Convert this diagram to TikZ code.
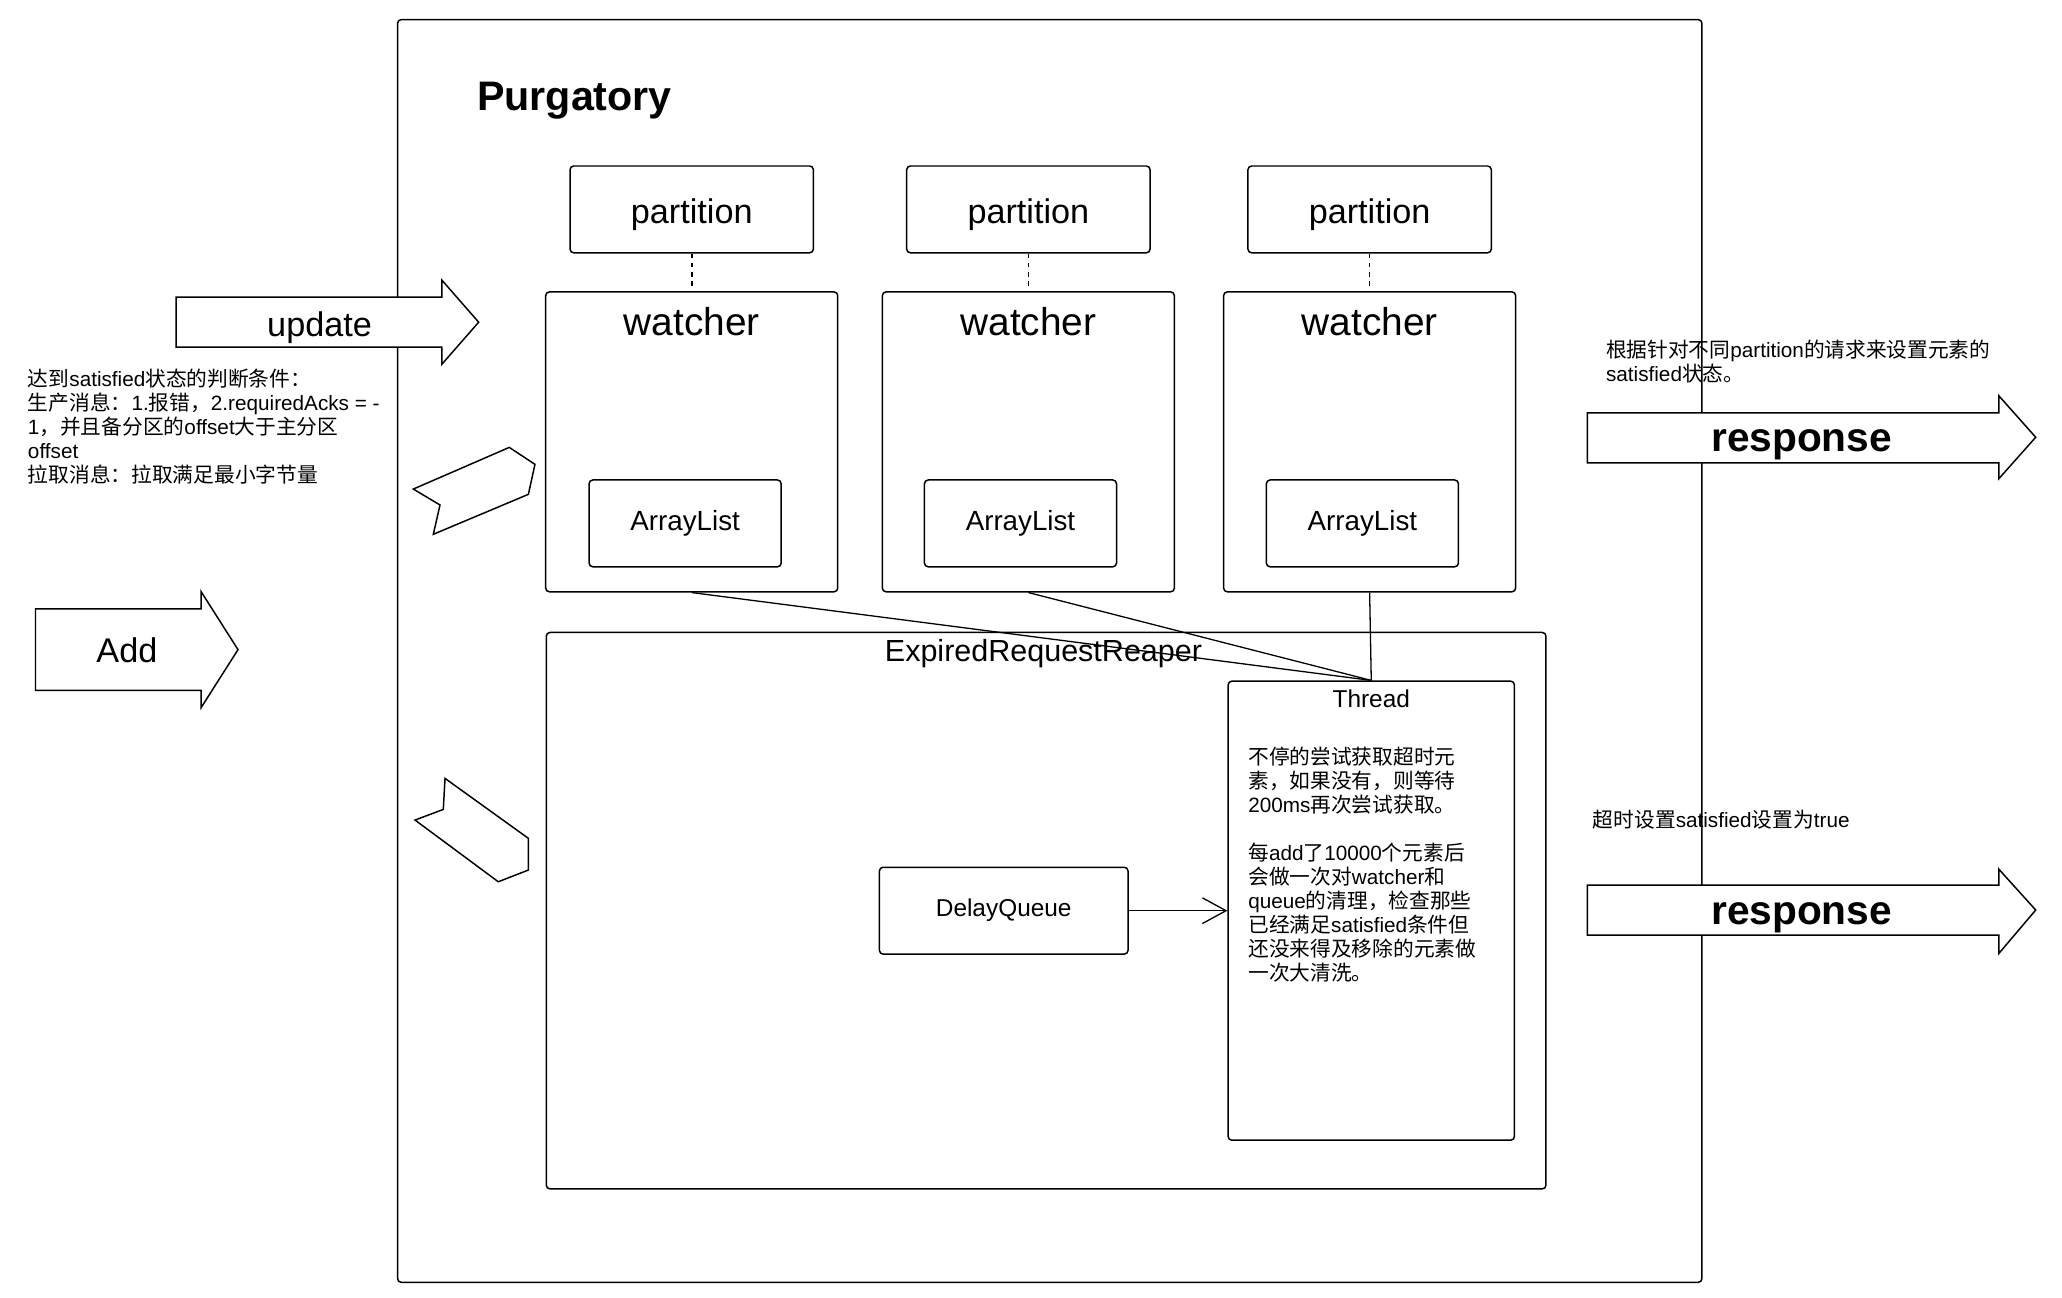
\documentclass[tikz,border=0pt]{standalone}
\usepackage{fontspec}
\setmainfont{Liberation Sans}
\newfontfamily\zh{Noto Sans CJK SC}
\usetikzlibrary{arrows.meta, positioning}

\begin{document}
\begin{tikzpicture}[
            x=0.025cm, y=-0.025cm,
            node distance=1cm and 1cm,
            % --- 样式定义 ---
            box/.style={rectangle, draw, line width=0.8pt, rounded corners=2pt, fill=white,
                        inner sep=0pt, align=center},
            part/.style={box, minimum width=4.625cm, minimum height=1.65cm, text height=19pt, text depth=3.9pt,
                         font=\fontsize{18.5}{22}\selectfont},
            watch/.style={box, minimum width=5.55cm, minimum height=5.7cm,
                          label={[anchor=base, yshift=-0.85cm, font=\fontsize{21}{25}\selectfont]north:watcher}},
            alist/.style={box, minimum width=3.65cm, minimum height=1.65cm, font=\fontsize{15}{18}\selectfont},
            note/.style={anchor=west, align=left, inner sep=0pt, font=\fontsize{11.2}{13}\selectfont},
            fat/.style={draw, line width=0.8pt, fill=white, line join=miter},
            fattext/.style={anchor=base, inner sep=0pt, font=\fontsize{18.5}{22}\selectfont},
            link/.style={draw, line width=0.7pt},
            dotlink/.style={draw, line width=0.9pt, dash pattern=on 2.5pt off 2.5pt}
        ]
        \useasboundingbox (0,0) rectangle (1568,987);

        % --- 外框 ---
        \node[box, minimum width=24.79cm, minimum height=24cm] (purg) at (798.25,495) {};
        \node[anchor=base west, inner sep=0pt, font=\fontsize{22.3}{26}\selectfont\bfseries] (title) at (362.5,84) {Purgatory};

        % --- watcher 与 partition ---
        \node[watch] (w1) at (526,336) {};
        \node[watch] (w2) at (782,336) {};
        \node[watch] (w3) at (1041.5,336) {};
        \node[part, above=0.715cm of w1] (p1) {partition};
        \node[part, above=0.715cm of w2] (p2) {partition};
        \node[part, above=0.715cm of w3] (p3) {partition};
        \node[alist] (a1) at (521,398) {ArrayList};
        \node[alist] (a2) at (776,398) {ArrayList};
        \node[alist] (a3) at (1036,398) {ArrayList};

        % --- ExpiredRequestReaper ---
        \node[box, minimum width=19cm, minimum height=10.575cm,
              label={[anchor=base, xshift=-0.05cm, yshift=-0.575cm, font=\fontsize{16.5}{20}\selectfont]north:ExpiredRequestReaper}] (reaper) at (795.5,692.5) {};
        \node[box, minimum width=5.44cm, minimum height=8.725cm,
              label={[anchor=base, yshift=-0.51cm, font=\fontsize{13.2}{16}\selectfont]north:Thread}] (thread) at (1042.75,692.5) {};
        \node[box, minimum width=4.725cm, minimum height=1.65cm, font=\fontsize{13.2}{16}\selectfont,
              left=1.875cm of thread] (dq) {DelayQueue};

        \node[note] (threadtxt) at (949,657.5) {
            {\zh 不停的尝试获取超时元}\\
            {\zh 素，如果没有，则等待}\\
            200ms{\zh 再次尝试获取。}\\[13pt]
            {\zh 每}add{\zh 了}10000{\zh 个元素后}\\
            {\zh 会做一次对}watcher{\zh 和}\\
            queue{\zh 的清理，检查那些}\\
            {\zh 已经满足}satisfied{\zh 条件但}\\
            {\zh 还没来得及移除的元素做}\\
            {\zh 一次大清洗。}
        };

        % --- 连线 ---
        \path[dotlink] (p1.south) -- (w1.north);
        \path[dotlink] (p2.south) -- (w2.north);
        \path[dotlink] (p3.south) -- (w3.north);
        \path[link] (w1.south) -- (thread.north);
        \path[link] (w2.south) -- (thread.north);
        \path[link] (w3.south) -- (thread.north);
        \path[link, -{Straight Barb[length=12.8pt, width=13.9pt]}] (dq.east) -- (thread.west);

        % --- 左侧箭头 ---
        \draw[fat] (134,226) -- (336,226) -- (336,213) -- (364,245) -- (336,277) -- (336,264) -- (134,264) -- cycle;
        \node[fattext] (update) at (243,255.5) {update};
        \draw[fat] (27,463) -- (153,463) -- (153,450) -- (181,494) -- (153,538) -- (153,525) -- (27,525) -- cycle;
        \node[fattext] (add) at (96.5,504) {Add};
        \draw[fat] (314.3,371.9) -- (387.3,340.2) -- (406.8,353.1) -- (401.8,375.9) -- (329.5,406.3) -- (334.6,384.0) -- cycle;
        \draw[fat] (338.4,591.9) -- (401.8,637.5) -- (401.8,661.6) -- (378.9,670.5) -- (315.6,623.6) -- (337.1,615.5) -- cycle;

        \node[note] (cond) at (21,324.5) {
            {\zh 达到}satisfied{\zh 状态的判断条件：}\\
            {\zh 生产消息：}1.{\zh 报错，}2.requiredAcks = -\\
            1{\zh ，并且备分区的}offset{\zh 大于主分区}\\
            offset\\
            {\zh 拉取消息：拉取满足最小字节量}
        };

        % --- 右侧 response ---
        \draw[fat] (1207,314) -- (1520,314) -- (1520,301) -- (1548,332.5) -- (1520,364) -- (1520,352) -- (1207,352) -- cycle;
        \node[fattext, font=\fontsize{22}{26}\selectfont\bfseries] (resp1) at (1370,343.5) {response};
        \draw[fat] (1207,673) -- (1520,673) -- (1520,661) -- (1548,692) -- (1520,725) -- (1520,711) -- (1207,711) -- cycle;
        \node[fattext, font=\fontsize{22}{26}\selectfont\bfseries] (resp2) at (1370,703) {response};

        \node[note] (setsat) at (1221,275) {
            {\zh 根据针对不同}partition{\zh 的请求来设置元素的}\\
            satisfied{\zh 状态。}
        };
        \node[note] (timeout) at (1211,623) {{\zh 超时设置}satisfied{\zh 设置为}true};

        \end{tikzpicture}
\end{document}
